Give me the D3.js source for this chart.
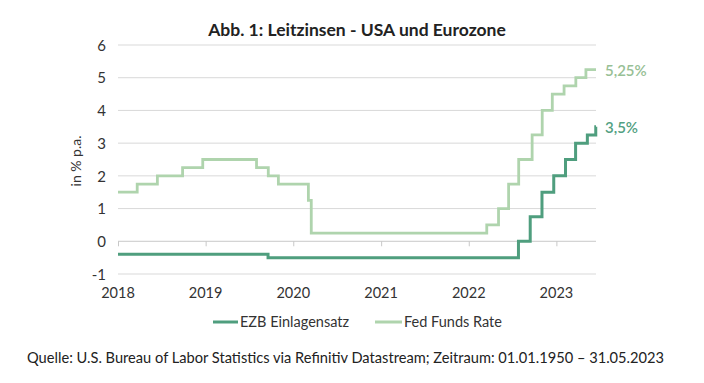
<!DOCTYPE html>
<html><head><meta charset="utf-8">
<script src="https://cdn.jsdelivr.net/npm/d3@7"></script>
<style>
html,body{margin:0;padding:0;background:#fff;}
svg{display:block;font-family:Lato,"Open Sans",sans-serif;}
</style></head>
<body>
<svg id="c" width="704" height="383"></svg>
<script>
const fedDates = ["2018-01-01","2018-03-22","2018-06-14","2018-09-27","2018-12-20","2019-08-01","2019-09-19","2019-10-31","2020-03-04","2020-03-16","2022-03-17","2022-05-05","2022-06-16","2022-07-28","2022-09-22","2022-11-03","2022-12-15","2023-02-02","2023-03-23","2023-05-04","2023-06-15"];
const fedRates = [1.5,1.75,2.0,2.25,2.5,2.25,2.0,1.75,1.25,0.25,0.5,1.0,1.75,2.5,3.25,4.0,4.5,4.75,5.0,5.25,5.25];
const ezbDates = ["2018-01-01","2019-09-18","2022-07-27","2022-09-14","2022-11-02","2022-12-21","2023-02-08","2023-03-22","2023-05-10","2023-06-14","2023-06-15"];
const ezbRates = [-0.4,-0.5,0,0.75,1.5,2.0,2.5,3.0,3.25,3.5,3.5];
const yTicks = [-1,0,1,2,3,4,5,6];
const xTickYears = ["2018","2019","2020","2021","2022","2023"];
const seriesNames = ["EZB Einlagensatz","Fed Funds Rate"];
const endLabels = ["3,5%","5,25%"];

const colEzb = "#4f9e7e", colFed = "#afd4ad";
const textCol = "#333333";
const parse = d3.timeParse("%Y-%m-%d");
const svg = d3.select("#c");

const x = d3.scaleTime().domain([parse("2018-01-01"), parse("2023-06-15")]).range([118, 596]);
const y = d3.scaleLinear().domain([-1, 6]).range([274, 45]);

// gridlines
svg.append("g").selectAll("line").data(yTicks.filter(d => d !== 0)).join("line")
  .attr("x1", 118).attr("x2", 596)
  .attr("y1", d => y(d)).attr("y2", d => y(d))
  .attr("stroke", "#d9d9d9").attr("stroke-width", 1);

// zero axis line with ticks
const xAxis = d3.axisBottom(x)
  .tickValues(xTickYears.map(s => parse(s + "-01-01")))
  .tickSize(5).tickFormat("");
const gx = svg.append("g").attr("transform", `translate(0,${y(0)})`).call(xAxis);
gx.select(".domain").attr("stroke", "#c8c8c8").attr("d", `M118,0H596`);
gx.selectAll(".tick line").attr("stroke", "#c8c8c8");

// x labels at bottom
svg.append("g").selectAll("text").data(xTickYears).join("text")
  .attr("x", d => x(parse(d + "-01-01")))
  .attr("y", 298).attr("text-anchor", "middle")
  .attr("font-size", 14.5).attr("fill", textCol).text(d => d);

// y labels
const yAxis = d3.axisLeft(y).tickValues(yTicks).tickSize(0).tickPadding(0).tickFormat(d => String(d));
const gy = svg.append("g").attr("transform", "translate(106,0)").call(yAxis);
gy.select(".domain").remove();
gy.selectAll("text").attr("font-size", 15).attr("fill", textCol)
  .attr("font-family", "Lato,sans-serif").attr("dy", "0.35em");

// y title
svg.append("text").attr("transform", "translate(81,161) rotate(-90)")
  .attr("text-anchor", "middle").attr("font-size", 14).attr("fill", textCol).text("in % p.a.");

// title
svg.append("text").attr("x", 357).attr("y", 36).attr("text-anchor", "middle")
  .attr("font-size", 17.5).attr("font-weight", "bold").attr("fill", "#222").text("Abb. 1: Leitzinsen - USA und Eurozone");

const line = d3.line().x(d => x(d[0])).y(d => y(d[1])).curve(d3.curveStepAfter);
const fedData = fedDates.map((d, i) => [parse(d), fedRates[i]]);
const ezbData = ezbDates.map((d, i) => [parse(d), ezbRates[i]]);

svg.append("path").datum(fedData).attr("d", line).attr("fill", "none")
  .attr("stroke", colFed).attr("stroke-width", 2.8);
svg.append("path").datum(ezbData).attr("d", line).attr("fill", "none")
  .attr("stroke", colEzb).attr("stroke-width", 3);

// end labels
svg.append("text").attr("x", 605).attr("y", y(fedRates[fedRates.length-1]) + 1).attr("dy", "0.35em")
  .attr("font-size", 15).attr("font-weight", 600).attr("fill", "#97c095").text(endLabels[1]);
svg.append("text").attr("x", 605).attr("y", y(ezbRates[ezbRates.length-1]) + 1).attr("dy", "0.35em")
  .attr("font-size", 15).attr("font-weight", 600).attr("fill", "#52a082").text(endLabels[0]);

// legend
const leg = [{name: seriesNames[0], col: colEzb, x1: 213, x2: 238, tx: 240},
             {name: seriesNames[1], col: colFed, x1: 375, x2: 402, tx: 404}];
const lg = svg.append("g").selectAll("g").data(leg).join("g");
lg.append("line").attr("x1", d => d.x1).attr("x2", d => d.x2).attr("y1", 322).attr("y2", 322)
  .attr("stroke", d => d.col).attr("stroke-width", 3);
lg.append("text").attr("x", d => d.tx).attr("y", 322).attr("dy", "0.35em")
  .attr("font-size", 14.5).attr("fill", textCol).text(d => d.name);

// source
svg.append("text").attr("x", 27).attr("y", 363).attr("font-size", 15).attr("fill", "#222")
  .attr("textLength", 637).attr("lengthAdjust", "spacingAndGlyphs")
  .text("Quelle: U.S. Bureau of Labor Statistics via Refinitiv Datastream; Zeitraum: 01.01.1950 – 31.05.2023");
</script>
</body></html>
